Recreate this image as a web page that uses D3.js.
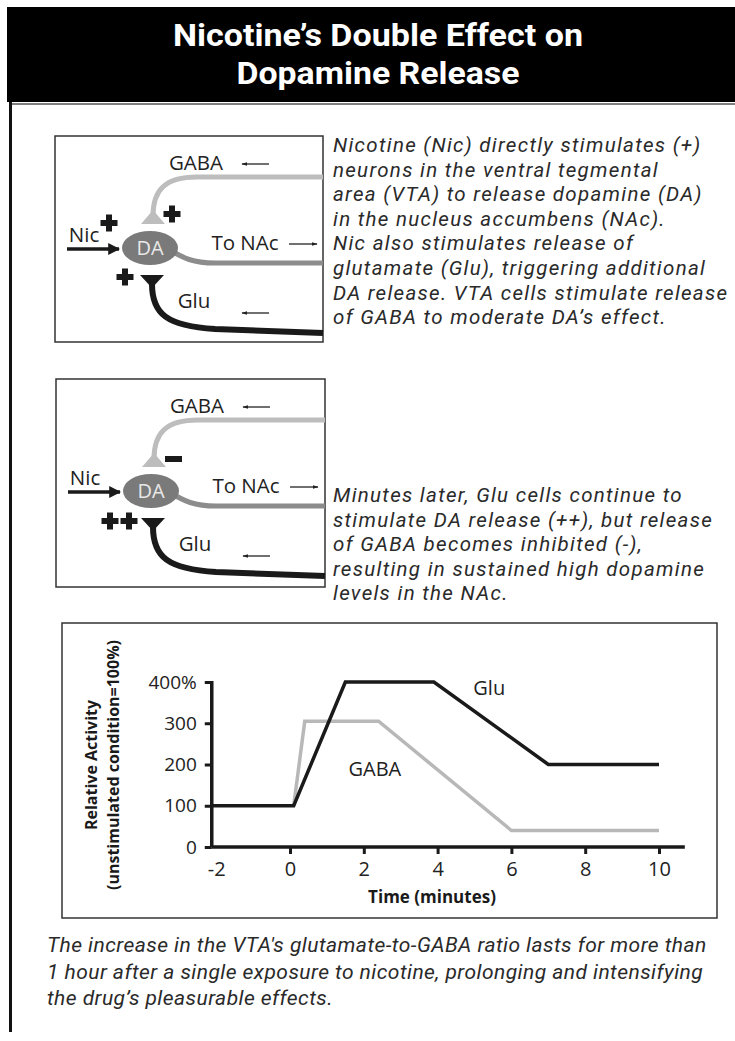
<!DOCTYPE html>
<html>
<head>
<meta charset="utf-8">
<script src="https://cdn.jsdelivr.net/npm/d3@7"></script>
<style>
  body { margin: 0; background: #fff; }
  svg { display: block; }
</style>
</head>
<body>
<svg id="page" width="735" height="1041"></svg>
<script>
// chart data
const gluTime = [-2.1, 0.1, 1.5, 3.9, 7, 10];
const gluLevel = [100, 100, 400, 400, 200, 200];
const gabaTime = [0.1, 0.4, 2.4, 6, 10];
const gabaLevel = [100, 305, 305, 40, 40];
const xTicks = [-2, 0, 2, 4, 6, 8, 10];
const yTicks = [0, 100, 200, 300, 400];
const yTickLabels = ['0', '100', '200', '300', '400%'];

const TITLE = ["Nicotine\u2019s Double Effect on", "Dopamine Release"];
const CAPTION1 = [
  "Nicotine (Nic) directly stimulates (+)",
  "neurons in the ventral tegmental",
  "area (VTA) to release dopamine (DA)",
  "in the nucleus accumbens (NAc).",
  "Nic also stimulates release of",
  "glutamate (Glu), triggering additional",
  "DA release. VTA cells stimulate release",
  "of GABA to moderate DA\u2019s effect."
];
const CAPTION2 = [
  "Minutes later, Glu cells continue to",
  "stimulate DA release (++), but release",
  "of GABA becomes inhibited (-),",
  "resulting in sustained high dopamine",
  "levels in the NAc."
];
const FOOTER = [
  "The increase in the VTA's glutamate-to-GABA ratio lasts for more than",
  "1 hour after a single exposure to nicotine, prolonging and intensifying",
  "the drug\u2019s pleasurable effects."
];

const svg = d3.select('#page');
const SANS = "'Open Sans', 'Noto Sans', sans-serif";
const BODY = "Roboto, 'Liberation Sans', sans-serif";

// ---- header and page frame
svg.append('rect').attr('x', 7).attr('y', 7).attr('width', 728).attr('height', 95).attr('fill', '#000');
svg.selectAll('text.title')
  .data(TITLE)
  .join('text')
  .attr('class', 'title')
  .attr('x', 378)
  .attr('y', (d, i) => 46 + i * 38)
  .attr('text-anchor', 'middle')
  .attr('fill', '#fff')
  .style('font-family', BODY)
  .style('font-weight', 700)
  .style('font-size', '31px')
  .attr('textLength', (d, i) => i === 0 ? 410 : 283)
  .attr('lengthAdjust', 'spacingAndGlyphs')
  .text(d => d);

svg.append('line').attr('x1', 10).attr('x2', 735).attr('y1', 104).attr('y2', 104)
  .attr('stroke', '#555').attr('stroke-width', 1.5);
svg.append('line').attr('x1', 10.5).attr('x2', 10.5).attr('y1', 102).attr('y2', 1032)
  .attr('stroke', '#111').attr('stroke-width', 3);

// ---- arrow markers
const defs = svg.append('defs');
defs.append('marker').attr('id', 'thin')
  .attr('viewBox', '0 0 10 10').attr('refX', 9).attr('refY', 5)
  .attr('markerWidth', 6).attr('markerHeight', 6).attr('markerUnits', 'userSpaceOnUse')
  .attr('orient', 'auto')
  .append('path').attr('d', 'M0,2 L10,5 L0,8 Z').attr('fill', '#222');
defs.append('marker').attr('id', 'thick')
  .attr('viewBox', '0 0 10 10').attr('refX', 9).attr('refY', 5)
  .attr('markerWidth', 12).attr('markerHeight', 13).attr('markerUnits', 'userSpaceOnUse')
  .attr('orient', 'auto')
  .append('path').attr('d', 'M0,0 L10,5 L0,10 Z').attr('fill', '#1a1a1a');

function plus(g, cx, cy) {
  const s = 8.5, t = 3;
  g.append('path')
    .attr('d', `M${cx - t},${cy - s}H${cx + t}V${cy - t}H${cx + s}V${cy + t}H${cx + t}V${cy + s}H${cx - t}V${cy + t}H${cx - s}V${cy - t}H${cx - t}Z`)
    .attr('fill', '#1a1a1a');
}

// signs: which marks go next to the GABA and Glu terminals
function diagram(x0, y0, w, h, gabaSign, gluSign) {
  const g = svg.append('g').attr('transform', `translate(${x0},${y0})`);
  g.append('rect').attr('width', w).attr('height', h)
    .attr('fill', '#fff').attr('stroke', '#333').attr('stroke-width', 1.5);

  const label = (txt, x, y) => g.append('text').attr('x', x).attr('y', y)
    .attr('text-anchor', 'middle').attr('fill', '#222')
    .style('font-family', SANS).style('font-size', '20.5px').text(txt);
  const arrow = (xa, xb, y) => g.append('line').attr('x1', xa).attr('x2', xb)
    .attr('y1', y).attr('y2', y).attr('stroke', '#222').attr('stroke-width', 1.3)
    .attr('marker-end', 'url(#thin)');

  // GABA fibre (light grey) coming back from the right
  g.append('path')
    .attr('d', `M${w},41 L142,41 C110,41 98,54 98,80`)
    .attr('fill', 'none').attr('stroke', '#bdbdbd').attr('stroke-width', 5);
  g.append('path').attr('d', 'M86,88 L110,88 L98,74 Z').attr('fill', '#bdbdbd');

  // To NAc fibre (mid grey)
  g.append('path')
    .attr('d', `M115,114 C128,122 138,127 160,127 L${w},127`)
    .attr('fill', 'none').attr('stroke', '#8c8c8c').attr('stroke-width', 5);

  // Glu fibre (black)
  g.append('path')
    .attr('d', `M97,148 C97,178 112,190 160,193 L${w},197`)
    .attr('fill', 'none').attr('stroke', '#1a1a1a').attr('stroke-width', 6);
  g.append('path').attr('d', 'M85,139 L109,139 L97,152 Z').attr('fill', '#1a1a1a');

  // DA cell body
  g.append('ellipse').attr('cx', 95).attr('cy', 112).attr('rx', 28).attr('ry', 17).attr('fill', '#7a7a7a');
  g.append('text').attr('x', 95).attr('y', 119).attr('text-anchor', 'middle')
    .attr('fill', '#e8e8e8').style('font-family', SANS).style('font-size', '20px').text('DA');

  // Nic input
  g.append('line').attr('x1', 12).attr('x2', 64).attr('y1', 113).attr('y2', 113)
    .attr('stroke', '#1a1a1a').attr('stroke-width', 3.5).attr('marker-end', 'url(#thick)');
  label('Nic', 29, 106);

  label('GABA', 141, 34); arrow(214, 187, 28);
  label('To NAc', 190, 114); arrow(234, 262, 108);
  label('Glu', 139, 172); arrow(214, 187, 177);

  if (gabaSign === '+') { plus(g, 54, 87); plus(g, 117, 78); }
  else g.append('rect').attr('x', 109).attr('y', 77).attr('width', 17).attr('height', 6).attr('fill', '#1a1a1a');
  if (gluSign === '+') plus(g, 70, 141);
  else { plus(g, 54, 142); plus(g, 73, 142); }
}

diagram(55, 136, 268, 206, '+', '+');
diagram(56, 379, 269, 208, '-', '++');

function paragraph(lines, x, y, lh, size, spacing) {
  svg.append('g').selectAll('text')
    .data(lines)
    .join('text')
    .attr('x', x)
    .attr('y', (d, i) => y + i * lh)
    .attr('fill', '#2a2a2a')
    .style('font-family', BODY)
    .style('font-style', 'italic')
    .style('font-size', size + 'px')
    .style('letter-spacing', spacing + 'px')
    .text(d => d);
}
paragraph(CAPTION1, 333, 152, 24.6, 20.5, 1.3);
paragraph(CAPTION2, 333, 502, 24.6, 20.5, 1.3);

// ---- line chart
svg.append('rect').attr('x', 62).attr('y', 623).attr('width', 655).attr('height', 295)
  .attr('fill', 'none').attr('stroke', '#333').attr('stroke-width', 1.5);

const x = d3.scaleLinear().domain([0, 10]).range([290, 659]);
const y = d3.scaleLinear().domain([0, 400]).range([847, 682]);

const chart = svg.append('g');

const line = d3.line().x(d => x(d[0])).y(d => y(d[1]));
chart.append('path')
  .datum(gabaTime.map((t, i) => [t, gabaLevel[i]]))
  .attr('d', line).attr('fill', 'none').attr('stroke', '#b8b8b8').attr('stroke-width', 3.5)
  .attr('stroke-linejoin', 'miter');
chart.append('path')
  .datum(gluTime.map((t, i) => [t, gluLevel[i]]))
  .attr('d', line).attr('fill', 'none').attr('stroke', '#1a1a1a').attr('stroke-width', 3.5)
  .attr('stroke-linejoin', 'miter');

// axes
const xAxis = chart.append('g').attr('transform', `translate(0,${y(0)})`)
  .call(d3.axisBottom(x).tickValues(xTicks).tickSize(7).tickPadding(8).tickFormat(d3.format('d')));
xAxis.select('.domain').attr('d', `M${x(-2.12)},0H${x(10.7)}`).attr('stroke', '#1a1a1a').attr('stroke-width', 3.5);
xAxis.selectAll('.tick').filter(d => d === -2).select('line').remove();
xAxis.selectAll('.tick line').attr('stroke', '#1a1a1a').attr('stroke-width', 3);
xAxis.selectAll('.tick text').attr('fill', '#222').style('font-family', SANS).style('font-size', '20px');
xAxis.selectAll('.tick text').text(d => d < 0 ? '-' + Math.abs(d) : d);

const yAxis = chart.append('g').attr('transform', `translate(${x(-2.12)},0)`)
  .call(d3.axisLeft(y).tickValues(yTicks).tickSize(7).tickPadding(8).tickFormat((d, i) => yTickLabels[i]));
yAxis.select('.domain').attr('d', `M0,${y(0)}V${y(400) - 1}`).attr('stroke', '#1a1a1a').attr('stroke-width', 3.5);
yAxis.selectAll('.tick line').attr('stroke', '#1a1a1a').attr('stroke-width', 3);
yAxis.selectAll('.tick text').attr('fill', '#222').style('font-family', SANS).style('font-size', '19px');

chart.append('text').attr('x', x(5.4)).attr('y', y(385) + 7).attr('text-anchor', 'middle')
  .attr('fill', '#222').style('font-family', SANS).style('font-size', '20px').text('Glu');
chart.append('text').attr('x', x(2.3)).attr('y', y(190) + 7).attr('text-anchor', 'middle')
  .attr('fill', '#222').style('font-family', SANS).style('font-size', '20px').text('GABA');

chart.append('text').attr('x', 432).attr('y', 903).attr('text-anchor', 'middle')
  .attr('fill', '#1a1a1a').style('font-family', SANS).style('font-weight', 700).style('font-size', '17px')
  .text('Time (minutes)');

const yt = chart.append('g').attr('transform', 'translate(0,765) rotate(-90)');
yt.append('text').attr('x', 0).attr('y', 97).attr('text-anchor', 'middle')
  .attr('fill', '#1a1a1a').style('font-family', SANS).style('font-weight', 700).style('font-size', '16px')
  .text('Relative Activity');
yt.append('text').attr('x', 0).attr('y', 119).attr('text-anchor', 'middle')
  .attr('fill', '#1a1a1a').style('font-family', SANS).style('font-weight', 700).style('font-size', '16px')
  .text('(unstimulated condition=100%)');

paragraph(FOOTER, 47, 952, 26.5, 21, 0.45);
</script>
</body>
</html>
